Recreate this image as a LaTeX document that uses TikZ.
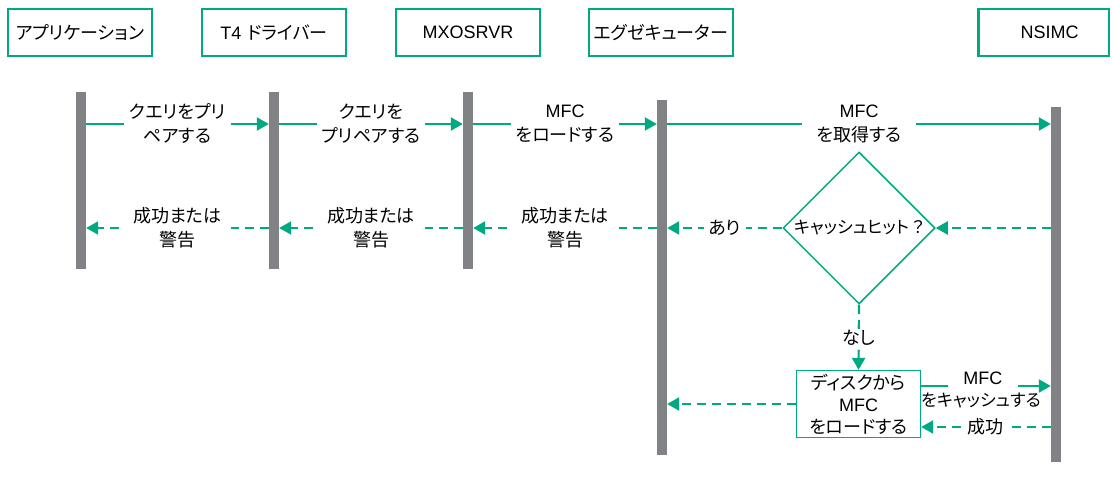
\documentclass[tikz,border=0pt]{standalone}
\usepackage{fontspec}
\setmainfont{Noto Sans CJK JP}[RawFeature=+palt]
\newfontfamily\lat{Liberation Sans}
\usetikzlibrary{arrows.meta,shapes.geometric,backgrounds}
\definecolor{hgreen}{HTML}{01A982}
\definecolor{bargray}{HTML}{808285}
\begin{document}
\begin{tikzpicture}[x=1pt,y=-1pt,
  hdr/.style={draw=hgreen, line width=2.5pt, minimum width=144pt, minimum height=47pt, inner sep=0pt, font=\fontsize{18}{22}\selectfont},
  bar/.style={fill=bargray, minimum width=10pt, inner sep=0pt, anchor=north},
  life/.style={draw=hgreen, line width=2pt, dash pattern=on 10pt off 6pt},
  msg/.style={draw=hgreen, line width=2.2pt, -{Triangle[length=12pt,width=13pt]}},
  ret/.style={msg, dash pattern=on 9pt off 6pt},
  lbl/.style={fill=white, align=center, font=\fontsize{18}{24}\selectfont, inner xsep=5pt, inner ysep=1pt},
  dia/.style={draw=hgreen, line width=1.5pt, shape=diamond, shape aspect=1, minimum width=152pt, minimum height=152pt, inner sep=0pt, font=\fontsize{17}{20}\selectfont},
  diskbox/.style={draw=hgreen, line width=1.3pt, minimum width=124pt, minimum height=67pt, inner sep=0pt, align=center, font=\fontsize{18}{22}\selectfont}
]
\useasboundingbox[fill=white] (0,0) rectangle (1112,480);
\coordinate (bot) at (0,480);
% headers
\node[hdr] (app) at (80,32.5) {アプリケーション};
\node[hdr] (t4) at (274,32.5) {{\lat T4}\hspace{6pt}ドライバー};
\node[hdr] (mx) at (468,32.5) {{\lat MXOSRVR}};
\node[hdr] (ex) at (661,32.5) {エグゼキューター};
\node[hdr, minimum width=130.5pt] (ns) at (1043.5,32.5) {\hspace{12pt}{\lat NSIMC}};
% activation bars
\node[bar, minimum height=177pt] (appbar) at (81,92) {};
\node[bar, minimum height=177pt] (t4bar) at (274,92) {};
\node[bar, minimum height=177pt] (mxbar) at (468,92) {};
\node[bar, minimum height=355pt] (exbar) at (662,100) {};
\node[bar, minimum height=355pt] (nsbar) at (1056,107) {};
% lifelines
\begin{scope}[on background layer]
\draw[life] (app.south -| appbar.north) -- (appbar.north |- bot);
\draw[life] (t4.south -| t4bar.north) -- (t4bar.north |- bot);
\draw[life] (mx.south -| mxbar.north) -- (mxbar.north |- bot);
\draw[life] (ex.south -| exbar.north) -- (exbar.north |- bot);
\draw[life] (ns.south -| nsbar.north) -- (nsbar.north |- bot);
\end{scope}
% requests
\draw[msg] (appbar.east |- 0,124) -- node[lbl]{クエリをプリ\\ペアする} (t4bar.west |- 0,124);
\draw[msg] (t4bar.east |- 0,124) -- node[lbl]{クエリを\\プリペアする} (mxbar.west |- 0,124);
\draw[msg] (mxbar.east |- 0,124) -- node[lbl]{{\lat MFC}\\をロードする} (exbar.west |- 0,124);
\draw[msg] (exbar.east |- 0,124) -- node[lbl, inner xsep=14pt]{{\lat MFC}\\を取得する} (nsbar.west |- 0,124);
% returns
\draw[ret] (t4bar.west |- 0,228) -- node[lbl, inner xsep=10pt]{成功または\\警告} (appbar.east |- 0,228);
\draw[ret] (mxbar.west |- 0,228) -- node[lbl, inner xsep=10pt]{成功または\\警告} (t4bar.east |- 0,228);
\draw[ret] (exbar.west |- 0,228) -- node[lbl, inner xsep=10pt]{成功または\\警告} (mxbar.east |- 0,228);
% decision
\node[dia] (hit) at (859,228) {キャッシュヒット\,？};
\draw[ret] (nsbar.west |- hit.east) -- (hit.east);
\draw[ret] (hit.west) -- node[lbl]{あり} (exbar.east |- hit.west);
\node[diskbox] (disk) at (858.5,404) {ディスクから\\{\lat MFC}\\をロードする};
\draw[ret] (hit.south) -- node[lbl]{なし} (disk.north);
\draw[ret] (disk.west) -- (exbar.east |- disk.west);
\draw[msg] (disk.east |- 0,386) -- node[lbl, minimum width=70pt, minimum height=24pt, inner sep=0pt, yshift=8pt, xshift=-3pt]{{\lat MFC}}
  node[font=\fontsize{17}{20}\selectfont, inner sep=0pt, yshift=-14pt, xshift=-5pt]{をキャッシュする} (nsbar.west |- 0,386);
\draw[ret] (nsbar.west |- 0,427) -- node[lbl]{成功} (disk.east |- 0,427);
\end{tikzpicture}
\end{document}
